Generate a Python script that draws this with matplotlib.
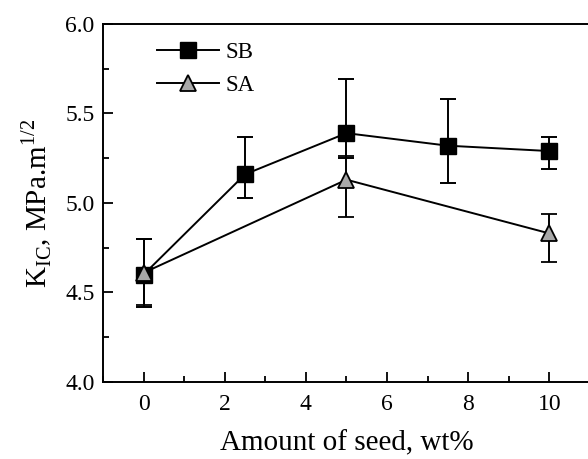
import matplotlib
matplotlib.use('Agg')
import matplotlib.pyplot as plt
from matplotlib.lines import Line2D
from matplotlib.ticker import MultipleLocator, FormatStrFormatter

# Seed content (wt%) and fracture toughness values
sb_x = [0, 2.5, 5, 7.5, 10]
sb_y = [4.60, 5.16, 5.39, 5.32, 5.29]
sb_err_lo = [0.18, 0.13, 0.14, 0.21, 0.10]
sb_err_hi = [0.20, 0.21, 0.30, 0.26, 0.08]

sa_x = [0, 5, 10]
sa_y = [4.61, 5.13, 4.83]
sa_err_lo = [0.18, 0.21, 0.16]
sa_err_hi = [0.19, 0.13, 0.11]

plt.rcParams['font.family'] = ['Liberation Serif', 'DejaVu Serif']

fig = plt.figure(figsize=(5.88, 4.59), dpi=100)
ax = fig.add_axes([0.1752, 0.1678, 0.828, 0.78])

sb_style = dict(color='black', lw=1.4, marker='s', ms=11, mfc='black', mec='black')
sa_style = dict(color='black', lw=1.4, marker='^', ms=12, mfc='#a8a8a8', mec='black', mew=1.3)

ax.errorbar(sb_x, sb_y, yerr=[sb_err_lo, sb_err_hi], capsize=5.5,
            elinewidth=1.4, capthick=1.4, zorder=3, **sb_style)
ax.errorbar(sa_x, sa_y, yerr=[sa_err_lo, sa_err_hi], capsize=5.5,
            elinewidth=1.4, capthick=1.4, zorder=4, **sa_style)

ax.set_xlim(-1, 11)
ax.set_ylim(4.0, 6.0)
ax.xaxis.set_major_locator(MultipleLocator(2))
ax.xaxis.set_minor_locator(MultipleLocator(1))
ax.yaxis.set_major_locator(MultipleLocator(0.5))
ax.yaxis.set_minor_locator(MultipleLocator(0.25))
ax.yaxis.set_major_formatter(FormatStrFormatter('%.1f'))
ax.tick_params(which='both', direction='in', labelsize=17, width=1.3)
ax.tick_params(which='major', length=7)
ax.tick_params(which='minor', length=4)
ax.tick_params(axis='x', pad=9)
ax.tick_params(axis='y', pad=6)
for s in ax.spines.values():
    s.set_linewidth(1.4)

ax.set_xlabel('Amount of seed, wt%', fontsize=21, labelpad=11)
ax.set_ylabel(r'K$_{\mathregular{IC}}$, MPa.m$^{\mathregular{1/2}}$', fontsize=21, labelpad=8)

handles = [Line2D([], [], **sb_style), Line2D([], [], **sa_style)]
ax.legend(handles, ['SB', 'SA'], loc='upper left', frameon=False, fontsize=16.5,
          handlelength=2.7, handletextpad=0.3, borderaxespad=0.5, labelspacing=0.55,
          bbox_to_anchor=(0.069, 1.008))

fig.savefig('out.png', dpi=100)
